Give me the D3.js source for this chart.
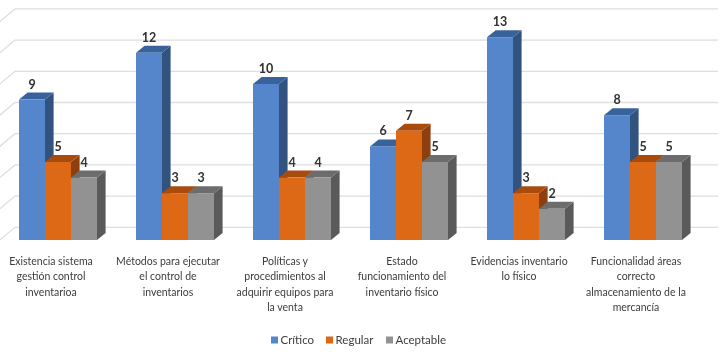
<!DOCTYPE html>
<html>
<head>
<meta charset="utf-8">
<script src="https://cdn.jsdelivr.net/npm/d3@7"></script>
<style>
    html, body { margin: 0; padding: 0; background: #fff; }
    svg { display: block; }
    text { font-family: Lato, "Open Sans", sans-serif; fill: #3c3c3c; }
</style>
</head>
<body>
<div id="chart"></div>
<script>
let categories = [
    ["Existencia sistema", "gestión control", "inventarioa"],
    ["Métodos para ejecutar", "el control de", "inventarios"],
    ["Políticas y", "procedimientos al", "adquirir equipos para", "la venta"],
    ["Estado", "funcionamiento del", "inventario físico"],
    ["Evidencias inventario", "lo físico"],
    ["Funcionalidad áreas", "correcto", "almacenamiento de la", "mercancía"]
]
let seriesNames = ["Crítico", "Regular", "Aceptable"]
let critico = [9, 12, 10, 6, 13, 8]
let regular = [5, 3, 4, 7, 3, 5]
let aceptable = [4, 3, 4, 5, 2, 5]
let gridTicks = [0, 2, 4, 6, 8, 10, 12, 14]

let seriesValues = [critico, regular, aceptable]
let frontColors = ["#5585cb", "#dd6717", "#929292"]
let topColors = ["#38629c", "#a94c0f", "#6c6c6c"]
let sideColors = ["#31527f", "#8d3f0c", "#5a5a5a"]

let width = 723, height = 354
let baseY = 240, depthX = 8.6, depthY = 7
let wallX = 15, wallDrop = 12.7

let svg = d3.select("#chart").append("svg")
    .attr("width", width)
    .attr("height", height)

// source is a soft, upscaled screenshot
svg.append("filter").attr("id", "soft")
    .append("feGaussianBlur").attr("stdDeviation", 0.45)

let g = svg.append("g").attr("filter", "url(#soft)")

let y = d3.scaleLinear().domain([0, 14]).range([baseY, baseY - 218.4])
let x0 = d3.scaleBand().domain(d3.range(categories.length)).range([19, 682]).paddingInner(1 / 3).paddingOuter(0)
let x1 = d3.scaleBand().domain(d3.range(seriesNames.length)).range([0, x0.bandwidth()])

// back wall grid lines with the slanted piece on the left side
gridTicks.forEach(t => {
    let yy = y(t) - wallDrop
    g.append("polyline")
        .attr("points", `-2,${yy + wallDrop + 1.5} ${wallX},${yy} 718,${yy}`)
        .attr("fill", "none")
        .attr("stroke", "#dedede")
        .attr("stroke-width", 1.3)
})

// bars, left to right so each front face covers the side of the previous bar
categories.forEach((cat, i) => {
    d3.range(seriesNames.length).forEach(s => {
        let v = seriesValues[s][i]
        let xl = x0(i) + x1(s)
        let xr = xl + x1.bandwidth()
        let yt = y(v)
        let bar = g.append("g")
        bar.append("path")
            .attr("d", `M${xr},${yt}L${xr + depthX},${yt - depthY}L${xr + depthX},${baseY - depthY}L${xr},${baseY}Z`)
            .attr("fill", sideColors[s])
        bar.append("path")
            .attr("d", `M${xl},${yt}L${xl + depthX},${yt - depthY}L${xr + depthX},${yt - depthY}L${xr},${yt}Z`)
            .attr("fill", topColors[s])
        bar.append("rect")
            .attr("x", xl)
            .attr("y", yt)
            .attr("width", x1.bandwidth())
            .attr("height", baseY - yt)
            .attr("fill", frontColors[s])
    })
})

// value labels above the bars
categories.forEach((cat, i) => {
    seriesValues.forEach((vals, s) => {
        g.append("text")
            .attr("x", x0(i) + x1(s) + x1.bandwidth() / 2)
            .attr("y", y(vals[i]) - 11)
            .attr("text-anchor", "middle")
            .attr("font-size", 12.5)
            .attr("font-weight", 700)
            .style("fill", "#303030")
            .text(vals[i])
    })
})

// category labels
categories.forEach((cat, i) => {
    let cx = x0(i) + x0.bandwidth() / 2 - 7
    cat.forEach((line, k) => {
        g.append("text")
            .attr("x", cx)
            .attr("y", 265 + k * 15.3)
            .attr("text-anchor", "middle")
            .attr("font-size", 10.5)
            .text(line)
    })
})

// legend
let legendX = [271, 326, 386]
seriesNames.forEach((name, s) => {
    g.append("rect")
        .attr("x", legendX[s])
        .attr("y", 336.5)
        .attr("width", 7)
        .attr("height", 7)
        .attr("fill", frontColors[s])
    g.append("text")
        .attr("x", legendX[s] + 9.5)
        .attr("y", 344)
        .attr("font-size", 11.5)
        .text(name)
})
</script>
</body>
</html>
